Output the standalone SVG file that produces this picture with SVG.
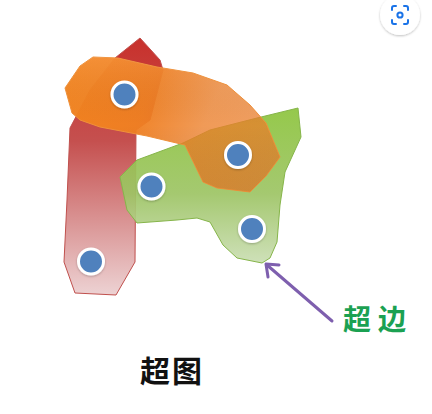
<svg xmlns="http://www.w3.org/2000/svg" width="432" height="414" viewBox="0 0 432 414">
<style>
.node{fill:#4F81BD;stroke:#FFFFFF;stroke-width:3}
.lbl{font-family:"Noto Sans CJK SC","Noto Sans CJK JP",sans-serif;font-weight:bold}
.arrow{fill:none;stroke:#7E5FAE;stroke-width:3;stroke-linecap:round;stroke-linejoin:round}
</style>
<defs>
<linearGradient id="gRed" x1="0" y1="38" x2="0" y2="296" gradientUnits="userSpaceOnUse">
<stop offset="0" stop-color="#C8312C"/>
<stop offset="0.4" stop-color="#C5504F"/>
<stop offset="1" stop-color="#EDD3D4"/>
</linearGradient>
<linearGradient id="gOrange" x1="70" y1="60" x2="280" y2="150" gradientUnits="userSpaceOnUse">
<stop offset="0" stop-color="#F4841E" stop-opacity="0.98"/>
<stop offset="0.38" stop-color="#F08022" stop-opacity="0.96"/>
<stop offset="0.65" stop-color="#EC7E28" stop-opacity="0.78"/>
<stop offset="1" stop-color="#EA7C2A" stop-opacity="0.72"/>
</linearGradient>
<linearGradient id="gOrangeShade" x1="0" y1="58" x2="0" y2="192" gradientUnits="userSpaceOnUse">
<stop offset="0" stop-color="#FFFFFF" stop-opacity="0.08"/>
<stop offset="0.5" stop-color="#000000" stop-opacity="0"/>
<stop offset="1" stop-color="#6A3000" stop-opacity="0.08"/>
</linearGradient>
<linearGradient id="gGreen" x1="0" y1="108" x2="0" y2="264" gradientUnits="userSpaceOnUse">
<stop offset="0" stop-color="#8CC43C"/>
<stop offset="0.55" stop-color="#9DC464"/>
<stop offset="1" stop-color="#CBDEB4"/>
</linearGradient>
<filter id="sh" x="-30%" y="-30%" width="160%" height="160%">
<feDropShadow dx="0" dy="1" stdDeviation="1.2" flood-color="#000" flood-opacity="0.25"/>
</filter>
</defs>
<rect width="432" height="414" fill="#FFFFFF"/>
<g id="hyperedge-red">
<path d="M140,38 L160,60 L163,70 L150,120 L136,130 L135,262 L116,295 L75,293 L64,262 L67,200 L70,128 L90,90 L115,58 Z" fill="url(#gRed)" stroke="#C0504D" stroke-width="1"/>
</g>
<g id="hyperedge-green">
<path d="M298,108 L301,137 L285,172 L280,205 L277,242 L270,258 L262,263 L237,258 L223,245 L210,222 L197,218 L177,220 L137,223 L127,210 L120,177 L137,160 L183,143 L210,130 L257,118 Z" fill="url(#gGreen)" fill-opacity="0.92" stroke="#86B54A" stroke-width="1"/>
</g>
<g id="hyperedge-orange">
<path d="M65,88 L80,66 L93,57 L118,58 L157,67 L193,73 L227,85 L250,105 L266,123 L280,157 L266,176 L250,192 L217,188 L203,182 L185,145 L147,136 L100,127 L80,120 L72,113 Z" fill="url(#gOrange)" stroke="#F0913A" stroke-width="1"/>
<path d="M65,88 L80,66 L93,57 L118,58 L157,67 L193,73 L227,85 L250,105 L266,123 L280,157 L266,176 L250,192 L217,188 L203,182 L185,145 L147,136 L100,127 L80,120 L72,113 Z" fill="url(#gOrangeShade)"/>
</g>
<g id="nodes">
<g id="v1"><circle class="node" cx="124.5" cy="94.5" r="12.5" filter="url(#sh)"/></g>
<g id="v2"><circle class="node" cx="238" cy="155" r="12.5" filter="url(#sh)"/></g>
<g id="v3"><circle class="node" cx="151.5" cy="186.5" r="12.5" filter="url(#sh)"/></g>
<g id="v4"><circle class="node" cx="252" cy="229" r="12.5" filter="url(#sh)"/></g>
<g id="v5"><circle class="node" cx="91" cy="261.5" r="12.5" filter="url(#sh)"/></g>
</g>
<g id="connectors">
<path class="arrow" d="M332,321 L267,265"/>
<path class="arrow" d="M279,265 L266,264 L268,277"/>
</g>
<g id="labels">
<text class="lbl" x="343" y="330" font-size="28" letter-spacing="7" fill="#1BA152">超边</text>
<text class="lbl" x="140" y="382" font-size="30" letter-spacing="2" fill="#111111">超图</text>
</g>
<g id="lens-button">
<circle cx="400" cy="15" r="20" fill="#FFFFFF" filter="url(#sh)"/>
<path d="M392,10 V8 Q392,6 394,6 H396 M404,6 H406 Q408,6 408,8 V10 M408,20 V22 Q408,24 406,24 H404 M396,24 H394 Q392,24 392,22 V20" fill="none" stroke="#1A73E8" stroke-width="2" stroke-linecap="round"/>
<circle cx="400" cy="15" r="2.6" fill="none" stroke="#1A73E8" stroke-width="2"/>
</g>
</svg>
